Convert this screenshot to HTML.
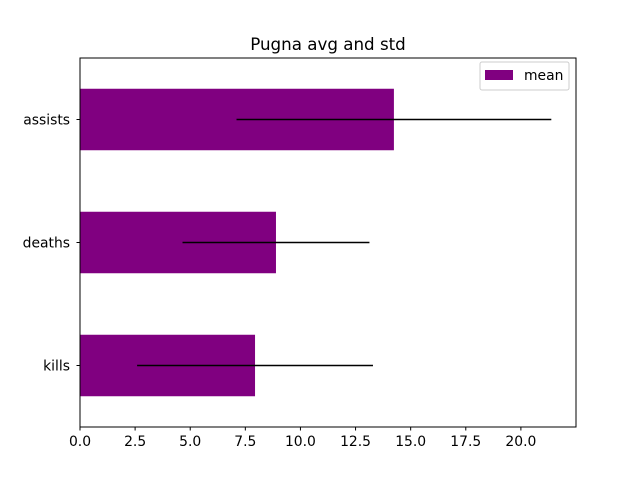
<!DOCTYPE html>
<html><head><meta charset="utf-8"><style>
body{margin:0;background:#fff;}
svg{display:block;font-family:"DejaVu Sans","Liberation Sans",sans-serif;}
</style></head><body>
<svg id="chart" width="640" height="480">
<rect x="0" y="0" width="640" height="480" fill="#fff"/>
<g id="bars"></g>
<g id="err"></g>
<rect x="80" y="58" width="496" height="369" fill="none" stroke="#000" stroke-width="1"/>
<g id="xt"></g><g id="yt"></g>
<text x="328" y="50" font-size="16.7" text-anchor="middle">Pugna avg and std</text>
<g>
<rect x="480" y="62" width="89" height="28" rx="2" fill="#fff" stroke="#ccc"/>
<rect x="485" y="70" width="28" height="10" fill="#800080"/>
<text x="524" y="80" font-size="13.9">mean</text>
</g>
</svg>
<script>
const categories=["kills","deaths","assists"];
const means=[7.94,8.89,14.24];
const stds=[5.35,4.24,7.14];
const xticks=[0,2.5,5,7.5,10,12.5,15,17.5,20];
const NS="http://www.w3.org/2000/svg";
const X0=80,X1=576,Y0=58,Y1=427,XMAX=22.5;
const sx=v=>X0+v/XMAX*(X1-X0);
const sy=i=>Y1-(i+0.5)/3*(Y1-Y0);
const bh=0.5/3*(Y1-Y0);
function mk(t,a,p){const e=document.createElementNS(NS,t);for(const k in a)e.setAttribute(k,a[k]);p.appendChild(e);return e;}
const bars=document.getElementById('bars'),err=document.getElementById('err'),xt=document.getElementById('xt'),yt=document.getElementById('yt');
categories.forEach((c,i)=>{
 const r=mk('rect',{x:sx(0),y:sy(i)-bh/2,width:sx(means[i])-sx(0),height:bh,fill:'#800080'},bars);
 
 
 const l=mk('line',{x1:sx(means[i]-stds[i]),x2:sx(means[i]+stds[i]),y1:sy(i),y2:sy(i),stroke:'#000','stroke-width':1.5},err);
 
 
 mk('line',{x1:X0-3.5,x2:X0,y1:sy(i),y2:sy(i),stroke:'#000'},yt);
 const t=mk('text',{x:X0-10,y:sy(i)+5,'font-size':13.9,'text-anchor':'end'},yt);
 t.textContent=c;
 
 
});
xticks.forEach(v=>{
 mk('line',{x1:sx(v),x2:sx(v),y1:Y1,y2:Y1+3.5,stroke:'#000'},xt);
 const t=mk('text',{x:sx(v),y:Y1+19,'font-size':13.9,'text-anchor':'middle'},xt);
 t.textContent=v.toFixed(1);
 
 
});
</script>
</body></html>
